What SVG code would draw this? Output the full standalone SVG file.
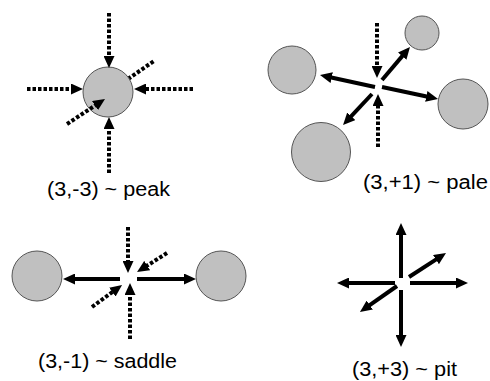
<svg xmlns="http://www.w3.org/2000/svg" width="490" height="381" viewBox="0 0 490 381">
<style>
.bg{fill:#ffffff}
.node{fill:#c0c0c0;stroke:#555555;stroke-width:1}
.dot{fill:none;stroke:#000;stroke-width:4;stroke-dasharray:3.5 2}
.sol{fill:none;stroke:#000;stroke-width:4}
.arr{marker-end:url(#ah)}
.lbl{font-family:"Liberation Sans",Arial,sans-serif;font-size:20px;fill:#000}
</style>
<defs>
<marker id="ah" viewBox="0 0 12 11" refX="4" refY="5.5" markerWidth="12" markerHeight="11" markerUnits="userSpaceOnUse" orient="auto">
<path d="M0,0 L12,5.5 L0,11 z" fill="#000"/>
</marker>
</defs>
<rect class="bg" width="490" height="381"/>

<g id="peak">
<line class="dot" x1="128" y1="79" x2="154" y2="61"/>
<circle class="node" cx="108" cy="92" r="25"/>
</g>
<g id="pale-c1"><circle class="node" cx="422" cy="33" r="17"/></g>
<g id="pale-c2"><circle class="node" cx="292" cy="70" r="24"/></g>
<g id="pale-c3"><circle class="node" cx="463" cy="104" r="25"/></g>
<g id="pale-c4"><circle class="node" cx="321" cy="152" r="29.5"/></g>
<g id="saddle-c1"><circle class="node" cx="37" cy="276" r="25"/></g>
<g id="saddle-c2"><circle class="node" cx="221" cy="276" r="25"/></g>

<g id="connectors">
<!-- peak -->
<line class="dot arr" x1="109" y1="13" x2="109" y2="60"/>
<line class="dot arr" x1="109" y1="173" x2="109" y2="125"/>
<line class="dot arr" x1="27" y1="89" x2="75" y2="89"/>
<line class="dot arr" x1="193" y1="89" x2="142" y2="89"/>
<line class="dot arr" x1="67" y1="124" x2="98.3" y2="103.4"/>
<!-- pale -->
<line class="dot arr" x1="377" y1="23" x2="377" y2="70"/>
<line class="dot arr" x1="378" y1="147" x2="378" y2="102"/>
<line class="sol arr" x1="375" y1="87" x2="327.8" y2="76.7"/>
<line class="sol arr" x1="382" y1="87" x2="430.2" y2="97.3"/>
<line class="sol arr" x1="382" y1="80" x2="404.8" y2="53.1"/>
<line class="sol arr" x1="372" y1="94" x2="348.5" y2="119.2"/>
<!-- saddle -->
<line class="sol arr" x1="120" y1="279" x2="71" y2="279"/>
<line class="sol arr" x1="137" y1="279" x2="188" y2="279"/>
<line class="dot arr" x1="128" y1="227" x2="128" y2="265"/>
<line class="dot arr" x1="130" y1="339" x2="130" y2="291"/>
<line class="dot arr" x1="167" y1="253" x2="143.8" y2="267.7"/>
<line class="dot arr" x1="92" y1="307" x2="115.6" y2="289.7"/>
<!-- pit -->
<line class="sol arr" x1="401" y1="278" x2="401" y2="231"/>
<line class="sol arr" x1="401" y1="290" x2="401" y2="339"/>
<line class="sol arr" x1="395" y1="283" x2="345" y2="283"/>
<line class="sol arr" x1="410" y1="283" x2="460" y2="283"/>
<line class="sol arr" x1="409" y1="277" x2="439.3" y2="257.4"/>
<line class="sol arr" x1="397" y1="286" x2="366.5" y2="307.4"/>
</g>

<g id="labels">
<text class="lbl" x="47" y="196" textLength="123" lengthAdjust="spacingAndGlyphs">(3,-3) ~ peak</text>
<text class="lbl" x="363" y="189" textLength="125" lengthAdjust="spacingAndGlyphs">(3,+1) ~ pale</text>
<text class="lbl" x="38" y="368" textLength="139" lengthAdjust="spacingAndGlyphs">(3,-1) ~ saddle</text>
<text class="lbl" x="352" y="376" textLength="105" lengthAdjust="spacingAndGlyphs">(3,+3) ~ pit</text>
</g>
</svg>
